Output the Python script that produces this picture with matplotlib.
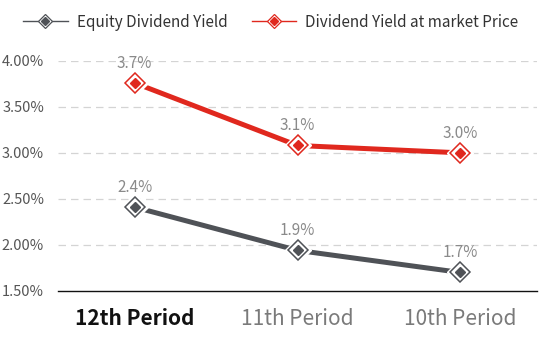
import matplotlib.pyplot as plt
from matplotlib.lines import Line2D
from matplotlib.legend_handler import HandlerTuple
from matplotlib.ticker import FuncFormatter

plt.rcParams["font.family"] = ["Noto Sans CJK KR", "Noto Sans", "DejaVu Sans"]

periods = ["12th Period", "11th Period", "10th Period"]
equity_yield = [2.41, 1.94, 1.70]
market_yield = [3.76, 3.08, 3.00]
equity_labels = ["2.4%", "1.9%", "1.7%"]
market_labels = ["3.7%", "3.1%", "3.0%"]

color_equity = "#4f5257"
color_market = "#e0281e"

fig = plt.figure(figsize=(5.53, 3.6), dpi=100)
ax = fig.add_axes([0.105, 0.192, 0.866, 0.639])

x = list(range(len(periods)))
legend_handles = []


def draw_series(vals, labels, color, name):
    ax.plot(x, vals, color=color, linewidth=3.6, solid_capstyle="butt", zorder=3)
    # white halo to leave a gap between line and marker
    ax.plot(x, vals, linestyle="none", marker="D", markersize=13,
            markerfacecolor="white", markeredgecolor="white", zorder=4, clip_on=False)
    ax.plot(x, vals, linestyle="none", marker="D", markersize=10,
            markerfacecolor="white", markeredgecolor=color, markeredgewidth=1.1,
            zorder=5, clip_on=False)
    ax.plot(x, vals, linestyle="none", marker="D", markersize=5.5,
            markerfacecolor=color, markeredgecolor=color, zorder=6, clip_on=False)
    for xi, v, lab in zip(x, vals, labels):
        ax.annotate(lab, (xi, v), textcoords="offset points", xytext=(0, 8),
                    ha="center", va="bottom", fontsize=11, color="#8a8a8a", zorder=7)
    # legend proxy: line + ringed diamond
    h_line = Line2D([], [], color=color, linewidth=1.0)
    h_ring = Line2D([], [], linestyle="none", marker="D", markersize=7.5,
                    markerfacecolor="white", markeredgecolor=color, markeredgewidth=0.9)
    h_dot = Line2D([], [], linestyle="none", marker="D", markersize=4.2,
                   markerfacecolor=color, markeredgecolor=color)
    legend_handles.append(((h_line, h_ring, h_dot), name))


draw_series(equity_yield, equity_labels, color_equity, "Equity Dividend Yield")
draw_series(market_yield, market_labels, color_market, "Dividend Yield at market Price")

ax.set_xlim(-0.47, 2.47)
ax.set_ylim(1.5, 4.0)
ax.set_yticks([1.5, 2.0, 2.5, 3.0, 3.5, 4.0])
ax.yaxis.set_major_formatter(FuncFormatter(lambda v, p: f"{v:.2f}%"))
ax.set_xticks(x)
ax.set_xticklabels(periods)

for gy in [2.0, 2.5, 3.0, 3.5, 4.0]:
    ax.axhline(gy, color="#d4d4d4", linewidth=0.9, linestyle=(0, (6, 4)), zorder=1)

for side in ["top", "right", "left"]:
    ax.spines[side].set_visible(False)
ax.spines["bottom"].set_color("#111111")
ax.spines["bottom"].set_linewidth(1.0)

ax.tick_params(axis="y", length=0, labelsize=10.5, labelcolor="#555555", pad=10)
ax.tick_params(axis="x", length=0, labelsize=15, pad=12)
for i, lab in enumerate(ax.get_xticklabels()):
    if i == 0:
        lab.set_color("#111111")
        lab.set_fontweight("bold")
    else:
        lab.set_color("#7a7a7a")

leg = fig.legend([h for h, _ in legend_handles], [n for _, n in legend_handles],
                 handler_map={tuple: HandlerTuple(ndivide=1)},
                 loc="upper center", bbox_to_anchor=(0.49, 1.0), ncol=2,
                 frameon=False, fontsize=11, handlelength=2.9,
                 columnspacing=1.6, handletextpad=0.6)
for t in leg.get_texts():
    t.set_color("#333333")

fig.savefig("out.png", dpi=100)
